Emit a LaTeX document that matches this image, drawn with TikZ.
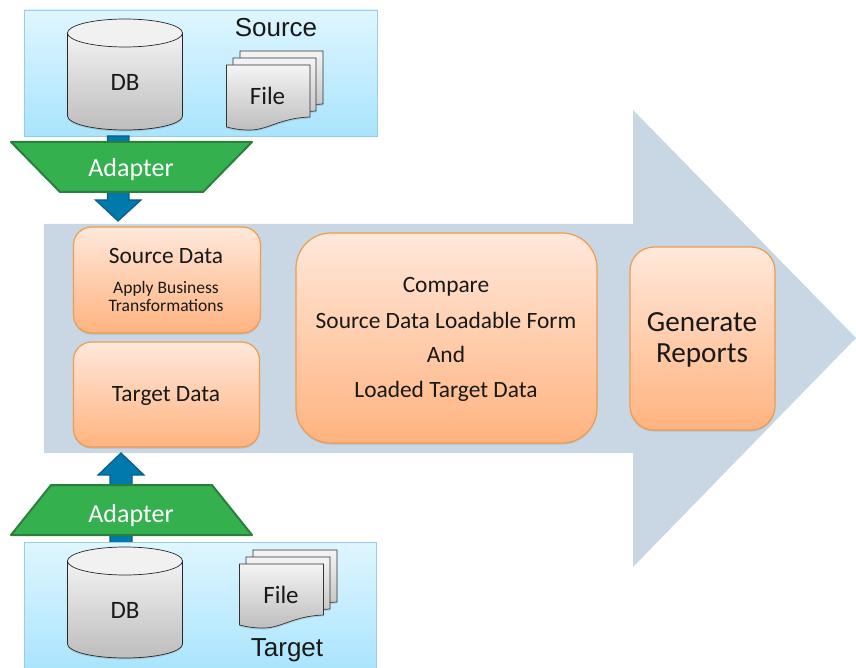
\documentclass[tikz,border=0pt]{standalone}
\usepackage{fontspec}
\setmainfont{Carlito}
\newfontfamily\arialfont{Liberation Sans}
\usetikzlibrary{shadows}
\newcommand{\fs}[1]{\fontsize{#1}{#1}\selectfont}
\definecolor{bandblue}{HTML}{C9D6E3}
\definecolor{adgreen}{HTML}{34B04F}
\definecolor{adedge}{HTML}{2A7F3C}
\definecolor{arrblue}{HTML}{0079AC}
\definecolor{arredge}{HTML}{0A5F85}
\definecolor{orangeedge}{HTML}{EE9C4E}
\definecolor{DFF6FF}{HTML}{DFF6FF}
\definecolor{A9E4FD}{HTML}{A9E4FD}
\definecolor{FFE8DB}{HTML}{FFE8DB}
\definecolor{FFB37F}{HTML}{FFB37F}
\definecolor{F2F2F2}{HTML}{F2F2F2}
\definecolor{BDBDBD}{HTML}{BDBDBD}
\definecolor{F1F1F1}{HTML}{F1F1F1}
\definecolor{F4F4F4}{HTML}{F4F4F4}
\definecolor{BEBEBE}{HTML}{BEBEBE}
\definecolor{panelline}{HTML}{9CCBE8}
\tikzset{
  softshadow/.style={drop shadow={opacity=.28,shadow xshift=0pt,shadow yshift=-1.5pt}},
  panel/.style={draw=panelline,line width=.8pt,top color=DFF6FF,bottom color=A9E4FD,softshadow},
  peach/.style={draw=orangeedge,line width=1.2pt,top color=FFE8DB,bottom color=FFB37F,softshadow,inner sep=0pt},
  adapterbox/.style={fill=adgreen,draw=adedge,line width=2pt,line join=round},
  blockarrow/.style={fill=arrblue,draw=arredge,line width=1.2pt,line join=miter},
  cylbody/.style={draw=black!85,line width=.7pt,top color=F2F2F2,bottom color=BDBDBD,softshadow},
  cyltop/.style={draw=black!85,line width=.7pt,fill=F1F1F1},
  sheet/.style={draw=black!80,line width=.7pt,top color=F4F4F4,bottom color=BEBEBE,softshadow},
  dark/.style={text=black!90,inner sep=0pt},
}
\newcommand{\cyl}[2]{% center x, top-centre y
  \path[cylbody] (#1-57.5,#2) -- (#1-57.5,#2+83) arc[start angle=180,end angle=360,x radius=57.5,y radius=-14] -- (#1+57.5,#2) -- cycle;
  \path[cyltop] (#1,#2) ellipse[x radius=57.5,y radius=14];
}
\newcommand{\onesheet}[4]{% left, top, right, bottom-right
  \path[sheet] (#1,#2) -- (#3,#2) -- (#3,#4)
    .. controls (#3-30,#4+1) and (#3-42,#4+13) .. (#3-60,#4+13)
    .. controls (#3-70,#4+13) and (#1+8,#4+12) .. (#1,#4+10) -- cycle;
}
\begin{document}
\begin{tikzpicture}[x=1pt,y=-1pt]
\useasboundingbox (0,0) rectangle (856,668);

% big process arrow
\fill[bandblue] (44,224) -- (633,224) -- (633,110) -- (856,338) -- (633,567) -- (633,453) -- (44,453) -- cycle;

% source panel
\coordinate (srcA) at (24,10);
\coordinate (srcB) at (377,136);
\path[panel] (srcA) rectangle (srcB);
\coordinate (tgtA) at (24,542);
\coordinate (tgtB) at (376,672);

% source-side arrow
\path[blockarrow] (107.5,136) -- (129,136) -- (129,200) -- (141,200) -- (118,221) -- (95.5,200) -- (107.5,200) -- cycle;
% target-side arrow
\path[blockarrow] (110,545) -- (132,545) -- (132,475) -- (144,475) -- (121,453) -- (98,475) -- (110,475) -- cycle;

\path[panel] (tgtA) rectangle (tgtB);

% adapters
\path[adapterbox] (11,142) -- (252,142) -- (203,192) -- (60,192) -- cycle;
\node[text=white,inner sep=0pt,font=\fs{26}] (adapterS) at (131,170) {Adapter};
\path[adapterbox] (51,485) -- (212,485) -- (252,535) -- (11,535) -- cycle;
\node[text=white,inner sep=0pt,font=\fs{26}] (adapterT) at (131,516) {Adapter};

% source contents
\cyl{125}{33}
\node[dark,font=\fs{25}] (dbS) at (125,82) {DB};
\onesheet{240}{51}{323}{104}
\onesheet{233}{58}{316}{111}
\onesheet{226.5}{65}{310}{117}
\node[dark,font=\fs{25}] (fileS) at (267.5,96) {File};
\node[dark,font=\arialfont\fs{26}] (source) at (276,28) {Source};

% target contents
\cyl{125}{561}
\node[dark,font=\fs{25}] (dbT) at (125,610) {DB};
\onesheet{253}{550}{337}{602}
\onesheet{246}{557}{330}{609}
\onesheet{239.5}{564}{323.5}{615}
\node[dark,font=\fs{25}] (fileT) at (281,595) {File};
\node[dark,font=\arialfont\fs{26}] (target) at (287,650.5) {Target};

% process boxes
\path[peach,rounded corners=18pt] (73.5,227) rectangle (260.5,333);
\node[dark,font=\fs{23.4}] (srcdata) at (166,256) {Source Data};
\node[dark,font=\fs{17.5}] (apply) at (166,289) {Apply Business};
\node[dark,font=\fs{17.5}] (transf) at (166,306) {Transformations};

\path[peach,rounded corners=18pt] (73.5,342) rectangle (259.5,447);
\node[dark,font=\fs{23.4}] (tgtdata) at (166,396) {Target Data};

\path[peach,rounded corners=35pt] (296,233) rectangle (597,443);
\node[dark,font=\fs{23.4}] (l1) at (446,287) {Compare};
\node[dark,font=\fs{23.4}] (l2) at (446,320) {Source Data Loadable Form};
\node[dark,font=\fs{23.4}] (l3) at (446,354) {And};
\node[dark,font=\fs{23.4}] (l4) at (446,391) {Loaded Target Data};

\path[peach,rounded corners=24pt] (630,247) rectangle (775,430);
\node[dark,font=\fs{29.2}] (g1) at (702,322) {Generate};
\node[dark,font=\fs{29.2}] (g2) at (702,355.5) {Reports};
\end{tikzpicture}
\end{document}
